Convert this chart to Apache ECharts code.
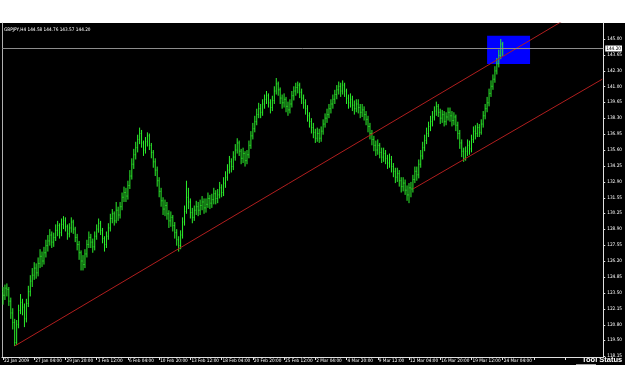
<!DOCTYPE html>
<html>
<head>
<meta charset="utf-8">
<script src="https://cdn.jsdelivr.net/npm/echarts@6/dist/echarts.min.js"></script>
<style>
  html, body { margin: 0; padding: 0; background: #fff; }
  #wrap { position: relative; width: 625px; height: 391px; }
  #back { position: absolute; left: 0; top: 23px; width: 625px; height: 342px; background: #000; }
  #chart { position: absolute; left: 0; top: 0; width: 625px; height: 391px; }
</style>
</head>
<body>
<div id="wrap">
  <div id="back"></div>
  <div id="chart"></div>
</div>
<script>
// GBPJPY H4, 22 Jan 2009 12:00 .. 24 Mar 2009 04:00
const firstOpen = 123.6;
const closes = [
  123.3,123.9,123.8,122.8,121.8,121.0,119.3,120.8,122.0,122.7,
  122.3,121.3,122.6,123.6,124.5,125.0,125.6,125.2,126.0,126.6,
  126.2,126.9,127.5,127.9,128.4,127.8,128.2,128.8,129.2,128.6,
  129.3,129.6,129.1,128.5,129.0,129.5,128.9,128.2,127.6,126.9,
  126.2,125.9,126.8,127.6,128.2,127.8,127.4,128.3,128.9,129.4,
  128.8,128.1,127.6,128.3,129.0,129.8,130.2,129.6,130.5,130.1,
  130.8,131.6,132.0,131.7,132.6,133.4,134.4,135.2,135.8,136.5,
  137.0,136.2,135.6,136.3,136.8,136.0,135.4,134.6,133.9,133.0,
  132.1,131.3,130.6,130.9,130.2,129.6,129.9,129.2,128.6,128.0,
  127.5,128.4,129.5,130.4,131.6,131.2,130.3,129.9,130.5,130.8,
  130.5,130.9,131.2,130.7,131.0,131.5,131.1,131.4,131.9,131.5,
  131.8,132.4,132.0,132.8,133.3,133.9,134.6,134.2,135.0,135.6,
  136.2,135.5,134.9,135.3,134.7,135.2,136.0,136.8,137.4,138.0,
  138.6,139.1,138.8,139.5,139.9,140.2,139.6,139.2,139.8,140.6,
  141.2,140.7,140.0,139.6,139.9,139.3,139.0,139.5,140.2,140.6,
  140.9,141.1,140.5,140.0,139.6,139.1,138.5,138.0,137.5,137.1,
  136.6,137.0,136.6,137.2,137.8,138.3,138.6,139.1,139.5,139.9,
  140.3,140.7,141.0,140.6,141.1,140.6,140.0,139.6,139.9,139.4,
  139.1,139.5,139.2,138.8,139.0,138.6,138.2,137.6,137.0,136.5,
  136.0,135.6,136.0,135.4,135.0,135.3,134.9,134.5,134.8,134.2,
  133.8,133.3,133.6,133.0,132.5,132.8,132.2,131.8,132.4,132.3,
  133.1,133.8,133.5,134.4,135.1,135.8,136.4,137.0,137.6,138.0,
  138.4,138.9,139.3,138.8,138.3,138.6,138.0,138.4,138.8,138.5,
  138.1,138.4,137.7,137.0,136.2,135.5,134.9,135.5,136.0,135.7,
  136.5,137.2,137.0,137.5,137.1,137.8,138.5,139.1,139.6,140.4,
  141.0,141.6,142.3,142.9,143.6,144.58,144.20
];
const lows = [
  122.5,122.9,123.2,122.4,121.3,120.4,119.0,119.1,120.5,121.7,
  121.6,120.6,121.0,122.3,123.2,124.0,124.6,124.7,124.9,125.6,
  125.7,125.9,126.5,127.0,127.5,127.3,127.4,127.9,128.3,128.1,
  128.3,128.9,128.7,128.0,128.2,128.6,128.5,127.8,127.1,126.3,
  125.4,125.4,125.6,126.5,127.3,127.3,126.9,127.1,128.0,128.6,
  128.4,127.7,127.0,127.3,128.0,128.7,129.4,129.2,129.4,129.6,
  129.8,130.5,131.2,131.2,131.4,132.3,133.1,134.0,134.8,135.4,
  136.1,135.8,135.1,135.3,135.9,135.6,134.9,134.1,133.4,132.5,
  131.6,130.8,130.1,130.0,129.7,129.0,129.1,128.7,128.1,127.5,
  127.0,127.2,128.1,129.2,130.2,130.6,129.8,129.4,129.6,130.1,
  130.0,130.1,130.5,130.2,130.3,130.7,130.6,130.7,131.0,131.0,
  131.1,131.5,131.6,131.7,132.4,133.0,133.6,133.7,133.9,134.7,
  135.3,135.1,134.4,134.5,134.2,134.4,134.9,135.7,136.5,137.1,
  137.7,138.3,138.3,138.5,139.1,139.5,139.2,138.7,138.9,139.5,
  140.3,140.2,139.5,139.1,139.2,138.8,138.5,138.7,139.2,139.8,
  140.2,140.4,140.0,139.5,139.1,138.6,138.0,137.5,137.0,136.6,
  136.2,136.3,136.2,136.3,136.9,137.5,137.9,138.3,138.7,139.1,
  139.5,139.9,140.3,140.1,140.3,140.1,139.5,139.1,139.2,138.9,
  138.6,138.8,138.7,138.3,138.4,138.1,137.7,137.1,136.5,136.0,
  135.5,135.1,135.2,134.9,134.5,134.6,134.4,134.0,134.1,133.7,
  133.3,132.8,132.9,132.5,132.0,132.1,131.8,131.3,131.1,131.6,
  132.0,132.8,133.0,133.2,134.1,134.8,135.5,136.1,136.7,137.2,
  137.6,138.1,138.5,138.4,137.8,137.9,137.6,137.7,138.1,138.0,
  137.6,137.7,137.2,136.5,135.7,135.0,134.6,134.7,135.1,135.2,
  135.4,136.2,136.5,136.7,136.7,136.9,137.5,138.2,138.8,139.3,
  140.1,140.7,141.3,142.0,142.6,143.3,143.57
];
const highs = [
  124.0,124.2,124.3,124.0,123.1,122.2,121.3,121.2,122.5,123.4,
  123.0,122.6,123.0,124.1,125.0,125.6,126.1,126.0,126.5,127.2,
  127.0,127.4,128.0,128.4,128.9,128.7,128.6,129.3,129.6,129.4,
  129.8,130.0,129.9,129.3,129.4,129.9,129.7,129.1,128.5,127.9,
  127.1,126.7,127.2,128.0,128.7,128.5,128.1,128.7,129.3,129.8,
  129.6,129.0,128.3,128.7,129.4,130.2,130.6,130.4,131.2,130.8,
  131.2,132.0,132.5,132.4,133.0,133.9,134.9,135.7,136.3,136.9,
  137.5,137.3,136.4,136.7,137.1,137.0,136.2,135.6,134.9,134.2,
  133.3,132.4,131.6,131.4,131.2,130.5,130.4,130.1,129.5,128.9,
  128.3,128.8,129.9,130.9,133.0,132.4,131.5,130.7,130.9,131.3,
  131.2,131.4,131.7,131.5,131.5,132.0,131.8,131.9,132.4,132.2,
  132.3,132.9,132.7,133.3,133.8,134.4,135.1,134.9,135.5,136.1,
  136.6,136.4,135.7,135.8,135.5,135.6,136.4,137.2,137.9,138.5,
  139.1,139.6,139.5,139.9,140.3,140.6,140.4,139.9,140.2,141.0,
  141.7,141.4,140.9,140.3,140.4,140.1,139.7,139.9,140.6,141.0,
  141.3,141.4,141.3,140.8,140.3,139.9,139.4,138.8,138.3,137.9,
  137.4,137.5,137.4,137.6,138.2,138.7,139.1,139.5,139.9,140.3,
  140.7,141.1,141.4,141.3,141.5,141.3,140.8,140.3,140.4,140.2,
  139.8,139.9,139.9,139.5,139.5,139.3,138.9,138.5,137.9,137.3,
  136.8,136.4,136.5,136.2,135.8,135.8,135.6,135.2,135.3,135.1,
  134.5,134.1,134.1,133.9,133.3,133.3,133.1,132.6,132.8,132.9,
  133.5,134.2,134.2,134.8,135.6,136.3,136.9,137.5,138.0,138.5,
  138.9,139.3,139.7,139.5,139.1,139.0,138.9,138.8,139.2,139.2,
  138.9,138.8,138.6,138.0,137.3,136.5,135.8,135.9,136.5,136.4,
  136.9,137.6,137.7,137.9,137.8,138.2,138.9,139.5,140.1,140.8,
  141.5,142.0,142.7,143.4,144.1,145.0,144.76
];

const xTickLabels = [
  '22 Jan 2009','27 Jan 04:00','29 Jan 20:00','3 Feb 12:00','6 Feb 04:00','10 Feb 20:00',
  '13 Feb 12:00','18 Feb 04:00','20 Feb 20:00','25 Feb 12:00','2 Mar 04:00','4 Mar 20:00',
  '9 Mar 12:00','12 Mar 04:00','16 Mar 20:00','19 Mar 12:00','24 Mar 04:00'
];
const xTickEvery = 16;
const yTickLabels = [
  '118.15','119.50','120.80','122.15','123.50','124.85','126.20','127.55','128.90','130.25',
  '131.55','132.90','134.25','135.60','136.95','138.30','139.65','141.00','142.30','143.65','145.00'
];
const header = 'GBPJPY,H4 144.58 144.76 143.57 144.20';
const lastPrice = 144.20;

// trend channel lines: [barIndex, price]
const trendUpper = [[6, 119.0], [290, 146.86]];
const trendLower = [[210, 132.3], [307, 141.6]];
// blue box: [barIndex, price] corners
const boxArea = [[247.6, 145.28], [269.6, 142.88]];

// H4 bar times (weekdays only), plus empty slots for the chart shift
const slots = 308;
const times = [];
let t = Date.UTC(2009, 0, 22, 12);
while (times.length < slots) {
  const d = new Date(t);
  const wd = d.getUTCDay();
  if (wd !== 0 && wd !== 6) times.push(d.toISOString().slice(0, 16).replace('T', ' '));
  t += 4 * 3600 * 1000;
}

// rows for the bar series: [index, open, close, low, high]
const bars = closes.map((c, i) => [i, i === 0 ? firstOpen : closes[i - 1], c, lows[i], highs[i]]);

const smallFont = '"Liberation Sans Narrow", "DejaVu Sans Condensed", sans-serif';
const small = 4.7;
const green = '#2cf02c';
const red = '#b01e1e';
const onTick = (i) => i % xTickEvery === 0;

// MT4 style OHLC bar: high-low stick, open tick left, close tick right
function renderBar(params, api) {
  const i = api.value(0);
  const pO = api.coord([i, api.value(1)]);
  const pC = api.coord([i, api.value(2)]);
  const pL = api.coord([i, api.value(3)]);
  const pH = api.coord([i, api.value(4)]);
  const x = pL[0];
  const st = { stroke: green, lineWidth: 1 };
  return {
    type: 'group',
    children: [
      { type: 'line', shape: { x1: x, y1: pH[1], x2: x, y2: pL[1] }, style: st },
      { type: 'line', shape: { x1: x - 0.6, y1: pO[1], x2: x, y2: pO[1] }, style: st },
      { type: 'line', shape: { x1: x, y1: pC[1], x2: x + 0.6, y2: pC[1] }, style: st }
    ]
  };
}

const chart = echarts.init(document.getElementById('chart'), null, { renderer: 'canvas' });
chart.setOption({
  backgroundColor: 'transparent',
  animation: false,
  grid: { left: 2, right: 21, top: 23, bottom: 34 },
  xAxis: {
    type: 'category',
    data: times,
    boundaryGap: true,
    axisLine: { lineStyle: { color: '#e0e0e0', width: 1 } },
    axisTick: { show: true, interval: (i) => onTick(i), alignWithLabel: true, length: 3, lineStyle: { color: '#e0e0e0' } },
    axisLabel: {
      interval: (i) => onTick(i),
      formatter: (v, i) => xTickLabels[i / xTickEvery] || '',
      color: '#ffffff', fontSize: small, fontFamily: smallFont,
      align: 'left', margin: 1, padding: [0, 0, 0, 1]
    },
    splitLine: { show: false }
  },
  yAxis: [{
    type: 'value',
    position: 'right',
    min: 118.07,
    max: 146.36,
    axisLine: { show: true, lineStyle: { color: '#e0e0e0', width: 1 } },
    axisTick: { show: true, length: 2, customValues: yTickLabels.map(Number), lineStyle: { color: '#e0e0e0' } },
    axisLabel: {
      customValues: yTickLabels.map(Number),
      formatter: (v) => v.toFixed(2),
      color: '#ffffff', fontSize: small, fontFamily: smallFont, margin: 4
    },
    splitLine: { show: false }
  }, {
    type: 'value',
    position: 'left',
    min: 118.07,
    max: 146.36,
    axisLine: { show: true, lineStyle: { color: '#b0b0b0', width: 1 } },
    axisTick: { show: false },
    axisLabel: { show: false },
    splitLine: { show: false }
  }],
  series: [{
    type: 'custom',
    renderItem: renderBar,
    data: bars,
    encode: { x: 0, y: [1, 2, 3, 4] },
    z: 3,
    markLine: {
      silent: true,
      symbol: 'none',
      lineStyle: { color: '#8c8c8c', type: 'solid', width: 1 },
      label: {
        position: 'end', formatter: lastPrice.toFixed(2),
        color: '#000', backgroundColor: '#ffffff', padding: [1, 1, 0, 1],
        fontSize: small, fontFamily: smallFont, distance: 2
      },
      data: [{ yAxis: lastPrice }]
    },
    markArea: {
      silent: true,
      itemStyle: { color: '#0000ff', opacity: 1 },
      data: [[{ coord: boxArea[0] }, { coord: boxArea[1] }]]
    }
  }, {
    type: 'line',
    data: trendUpper,
    z: 4,
    symbol: 'none',
    clip: true,
    lineStyle: { color: red, width: 1 }
  }, {
    type: 'line',
    data: trendLower,
    z: 4,
    symbol: 'none',
    clip: true,
    lineStyle: { color: red, width: 1 }
  }],
  graphic: [{
    type: 'text', left: 4, top: 27,
    style: { text: header, fill: '#ffffff', fontSize: small, fontFamily: smallFont }
  }, {
    type: 'text', left: 582, top: 356,
    style: { text: 'Tool Status', fill: '#ffffff', fontSize: 7.5, fontWeight: 'bold', fontFamily: 'Liberation Sans, Arial, sans-serif' }
  }, {
    type: 'rect', left: 576, top: 364, shape: { width: 20, height: 1 },
    style: { fill: '#9a9a9a' }
  }]
});
</script>
</body>
</html>
